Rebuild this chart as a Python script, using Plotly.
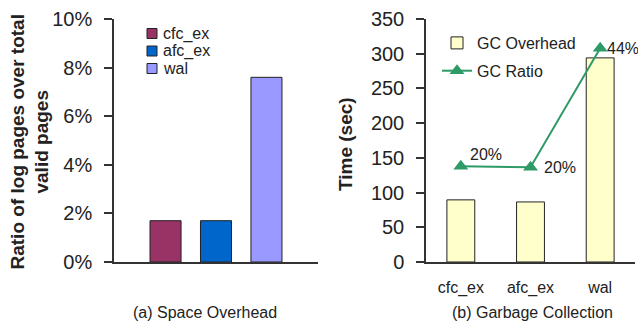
import plotly.graph_objects as go

# ---- data ----
schemes = ["cfc_ex", "afc_ex", "wal"]
space_ratio = [0.017, 0.017, 0.076]          # log pages / total valid pages
space_colors = ["#993366", "#0066CC", "#9999FF"]
gc_time = [89.5, 86.5, 294.0]                # GC overhead, seconds
gc_ratio = [19.7, 19.5, 44.0]                # GC ratio, percent

W, H = 638, 325
FONT = "Arial, Liberation Sans, Helvetica, sans-serif"
AX = "#333333"
GREEN = "#2E9A66"

def px_x(p):
    return p / W

def px_y(p):
    return 1 - p / H

fig = go.Figure()

# (a) space overhead: one group of three bars
for name, val, col in zip(schemes, space_ratio, space_colors):
    fig.add_trace(go.Bar(
        x=["space"], y=[val], name=name, showlegend=False,
        marker=dict(color=col, line=dict(color="#222222", width=1)),
        xaxis="x", yaxis="y",
    ))

# (b) garbage collection: time bars + ratio line on a hidden secondary axis
fig.add_trace(go.Bar(
    x=schemes, y=gc_time, name="GC Overhead", width=0.4,
    marker=dict(color="#FFFFCC", line=dict(color="#222222", width=1)),
    xaxis="x2", yaxis="y2", legend="legend2", legendgroup="a",
))
fig.add_trace(go.Scatter(
    x=schemes, y=gc_ratio, name="GC Ratio", mode="lines+markers",
    line=dict(color=GREEN, width=2),
    marker=dict(symbol="triangle-up", size=13, color=GREEN),
    xaxis="x2", yaxis="y3", legend="legend2", legendgroup="b",
    cliponaxis=False,
))

# ratio labels next to each marker (label offsets in pixels)
label_shift = [(7, 12), (11, 0), (5, 0)]
for s, v, (dx, dy) in zip(schemes, gc_ratio, label_shift):
    fig.add_annotation(text=f"{v:.0f}%", x=s, y=v, xref="x2", yref="y3",
                       xanchor="left", yanchor="middle", xshift=dx, yshift=dy,
                       showarrow=False, font=dict(size=16, color="#222222"))

axis_common = dict(showline=True, linecolor=AX, linewidth=1.5, showgrid=False,
                   zeroline=False, ticks="outside", tickcolor=AX, tickwidth=1.5,
                   automargin=False, ticklabelstandoff=8)

fig.update_layout(
    width=W, height=H, margin=dict(l=0, r=0, t=0, b=0, autoexpand=False),
    paper_bgcolor="white", plot_bgcolor="white",
    font=dict(family=FONT, size=16, color="#222222"),
    barmode="group", bargap=0.258, bargroupgap=0.385,
    xaxis=dict(domain=[px_x(114), px_x(318)], anchor="y", showticklabels=False,
               showline=True, linecolor=AX, linewidth=1.5, ticks="", showgrid=False,
               automargin=False),
    yaxis=dict(domain=[px_y(262), px_y(19)], anchor="x", range=[0, 0.1],
               dtick=0.02, tickformat=".0%", ticklen=8,
               tickfont=dict(size=20), **axis_common),
    xaxis2=dict(domain=[px_x(426), px_x(635)], anchor="y2", range=[-0.5, 2.5],
                showline=True, linecolor=AX, linewidth=1.5, ticks="", showgrid=False,
                tickfont=dict(size=16), automargin=False, ticklabelstandoff=10),
    yaxis2=dict(domain=[px_y(262), px_y(19)], anchor="x2", range=[0, 350],
                dtick=50, ticklen=8, tickfont=dict(size=20), **axis_common),
    yaxis3=dict(overlaying="y2", anchor="x2", range=[0, 50], visible=False,
                automargin=False),
    legend2=dict(x=px_x(437), y=px_y(26), xanchor="left", yanchor="top",
                 bgcolor="rgba(0,0,0,0)", font=dict(size=16),
                 traceorder="grouped", tracegroupgap=4),
    showlegend=True,
)

# legend of panel (a): colour keys beside the series names
for i, (name, col) in enumerate(zip(schemes, space_colors)):
    yc = 33.5 + 17.5 * i
    fig.add_shape(type="rect", xref="paper", yref="paper",
                  x0=px_x(147), x1=px_x(157), y0=px_y(yc - 5), y1=px_y(yc + 5),
                  fillcolor=col, line=dict(color="#222222", width=1))
    fig.add_annotation(text=name, x=px_x(161), y=px_y(yc), xref="paper", yref="paper",
                       xanchor="left", yanchor="middle", showarrow=False,
                       font=dict(size=16))

# axis titles and panel captions
def note(text, x, y, size, angle=0):
    fig.add_annotation(text=text, x=px_x(x), y=px_y(y), xref="paper", yref="paper",
                       xanchor="center", yanchor="middle", textangle=angle,
                       showarrow=False, font=dict(size=size))

note("<b>Ratio of log pages over total<br>valid pages</b>", 29.5, 142, 19, -90)
note("<b>Time (sec)</b>", 345, 144, 19, -90)
note("(a) Space Overhead", 205, 312, 16)
note("(b) Garbage Collection", 532, 312, 16)

fig.write_html("out.html")
